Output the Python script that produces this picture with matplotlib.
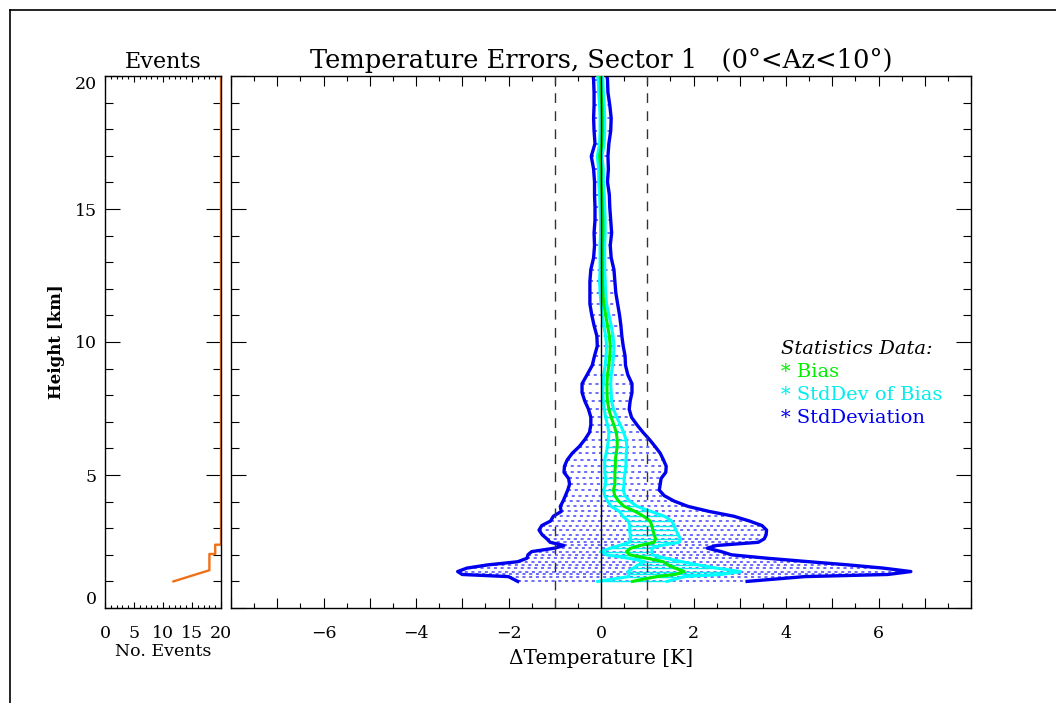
import numpy as np
import matplotlib
matplotlib.use('Agg')
import matplotlib.pyplot as plt
from matplotlib.ticker import MultipleLocator, FuncFormatter
from matplotlib.lines import Line2D

# profile levels (km) and statistics (K)
height = [1.00, 1.18, 1.26, 1.37, 1.50, 1.62, 1.74, 1.87, 2.00, 2.12, 2.25, 2.35,
          2.47, 2.60, 2.75, 2.93, 3.10, 3.27, 3.45, 3.63, 3.82, 4.02, 4.22, 4.43,
          4.65, 4.87, 5.10, 5.33, 5.57, 5.82, 6.07, 6.33, 6.60, 6.88, 7.17, 7.47,
          7.78, 8.10, 8.43, 8.77, 9.12, 9.48, 9.85, 10.23, 10.62, 11.02, 11.43, 11.85,
          12.28, 12.72, 13.17, 13.63, 14.10, 14.58, 15.06, 15.54, 16.02, 16.50, 16.98,
          17.46, 17.94, 18.42, 18.90, 19.38, 19.86, 20.00]
bias = [0.68, 1.20, 1.60, 1.80, 1.60, 1.45, 1.35, 1.00, 0.62, 0.55, 0.65, 0.85,
        1.15, 1.18, 1.15, 1.12, 1.10, 1.06, 0.92, 0.74, 0.50, 0.38, 0.30, 0.27,
        0.30, 0.30, 0.30, 0.31, 0.31, 0.33, 0.35, 0.35, 0.33, 0.28, 0.22, 0.17,
        0.14, 0.13, 0.13, 0.14, 0.17, 0.19, 0.20, 0.18, 0.14, 0.10, 0.06, 0.04,
        0.03, 0.03, 0.03, 0.03, 0.04, 0.04, 0.03, 0.02, 0.00, 0.00, -0.03,
        0.02, 0.03, 0.03, 0.02, 0.00, -0.01, -0.02]
sd_bias = [0.75, 0.60, 1.00, 1.22, 0.90, 0.65, 0.40, 0.40, 0.50, 0.55, 0.45, 0.45,
           0.54, 0.54, 0.52, 0.50, 0.48, 0.47, 0.45, 0.34, 0.28, 0.24, 0.22, 0.21,
           0.20, 0.20, 0.22, 0.23, 0.23, 0.22, 0.21, 0.19, 0.16, 0.14, 0.12, 0.10,
           0.09, 0.09, 0.08, 0.08, 0.08, 0.08, 0.08, 0.08, 0.08, 0.07, 0.06, 0.06,
           0.06, 0.05, 0.05, 0.05, 0.05, 0.05, 0.05, 0.05, 0.05, 0.05, 0.05,
           0.05, 0.05, 0.05, 0.05, 0.05, 0.05, 0.05]
sd = [2.48, 3.20, 4.60, 4.90, 4.50, 3.90, 3.15, 2.60, 2.20, 2.05, 1.65, 1.65,
      2.25, 2.35, 2.42, 2.46, 2.38, 2.15, 1.95, 1.60, 1.38, 1.20, 1.07, 0.99,
      0.98, 1.00, 1.10, 1.10, 1.04, 0.95, 0.82, 0.70, 0.58, 0.50, 0.44, 0.44,
      0.49, 0.54, 0.54, 0.44, 0.36, 0.33, 0.28, 0.27, 0.29, 0.30, 0.30, 0.28,
      0.27, 0.25, 0.19, 0.17, 0.19, 0.17, 0.16, 0.16, 0.14, 0.16, 0.18,
      0.15, 0.18, 0.19, 0.17, 0.15, 0.15, 0.15]

# number of events vs height (step outline)
ev_count = [11.8, 18, 18, 19, 19, 20, 20]
ev_height = [1.0, 1.42, 2.03, 2.03, 2.38, 2.38, 20.0]

plt.rcParams['font.family'] = ['DejaVu Serif']
plt.rcParams['axes.unicode_minus'] = True

h = np.array(height)
b = np.array(bias)
sb = np.array(sd_bias)
s = np.array(sd)

fig = plt.figure(figsize=(10.56, 7.03), dpi=100)
fig.patch.set_facecolor('white')

# outer frame (top and left edges)
fig.add_artist(Line2D([10/1056, 10/1056], [0, 1 - 10/703], transform=fig.transFigure, color='black', lw=1.2))
fig.add_artist(Line2D([10/1056, 1], [1 - 10/703, 1 - 10/703], transform=fig.transFigure, color='black', lw=1.2))

ax_ev = fig.add_axes([105/1056, 95/703, 116/1056, 532/703])
ax = fig.add_axes([231/1056, 95/703, 740/1056, 532/703])

for a in (ax_ev, ax):
    for sp in a.spines.values():
        sp.set_linewidth(1.0)
    a.tick_params(which='both', direction='in', top=True, right=True, width=0.8, colors='black')

# events panel
ax_ev.plot(ev_count, ev_height, color='#f07018', lw=1.7)
ax_ev.set_xlim(0, 20)
ax_ev.set_ylim(0, 20)
ax_ev.xaxis.set_major_locator(MultipleLocator(5))
ax_ev.xaxis.set_minor_locator(MultipleLocator(1))
ax_ev.yaxis.set_major_locator(MultipleLocator(5))
ax_ev.yaxis.set_minor_locator(MultipleLocator(1))
ax_ev.tick_params(axis='x', which='major', length=4.5, labelsize=12.5, pad=12)
ax_ev.tick_params(axis='x', which='minor', length=2.5)
ax_ev.tick_params(axis='y', which='major', length=11, labelsize=12.5, pad=6)
ax_ev.tick_params(axis='y', which='minor', length=5.5)
ax_ev.set_title('Events', fontsize=16, pad=6)
ax_ev.set_xlabel('No. Events', fontsize=12.5, labelpad=1)
ax_ev.set_ylabel('Height [km]', fontsize=12, fontweight='bold', labelpad=7)
fig.canvas.draw()
for t in ax_ev.get_yticklabels():
    if t.get_text() == '0':
        t.set_verticalalignment('bottom')
    elif t.get_text() == '20':
        t.set_verticalalignment('top')

# main panel
ax.hlines(h, b - s, b + s, colors='#4444ff', lw=1.1, linestyles=(0, (2.0, 2.4)), zorder=1)
ax.plot(b - s, h, color='#0000ee', lw=2.4, zorder=2)
ax.plot(b + s, h, color='#0000ee', lw=2.4, zorder=2)
ax.hlines(h, b - sb, b + sb, colors='#00eeee', lw=1.0, zorder=3)
ax.plot(b - sb, h, color='#00ffff', lw=2.2, zorder=4)
ax.plot(b + sb, h, color='#00ffff', lw=2.2, zorder=4)
ax.plot(b, h, color='#00ee00', lw=2.2, zorder=5)

ax.axvline(0, color='black', lw=1.0, zorder=6)
for xv in (-1, 1):
    ax.axvline(xv, color='#333333', lw=1.0, linestyle=(0, (7, 6)), zorder=6)

ax.set_xlim(-8, 8)
ax.set_ylim(0, 20)
ax.xaxis.set_major_locator(MultipleLocator(1))
ax.xaxis.set_minor_locator(MultipleLocator(0.5))
ax.xaxis.set_major_formatter(FuncFormatter(
    lambda v, p: ('%d' % v).replace('-', '\u2212') if (round(v) % 2 == 0 and abs(v) < 7.5) else ''))
ax.yaxis.set_major_locator(MultipleLocator(5))
ax.yaxis.set_minor_locator(MultipleLocator(1))
ax.tick_params(axis='x', which='major', length=7, labelsize=12.5, pad=12)
ax.tick_params(axis='x', which='minor', length=3.5)
ax.tick_params(axis='y', which='major', length=11, labelleft=False)
ax.tick_params(axis='y', which='minor', length=5.5)
ax.set_title('Temperature Errors, Sector 1   (0\u00b0<Az<10\u00b0)', fontsize=18.5, pad=6)
ax.set_xlabel('\u0394Temperature [K]', fontsize=14.5, labelpad=5)

# legend text
lx = 0.743
ax.text(lx, 0.487, 'Statistics Data:', transform=ax.transAxes, fontsize=14, style='italic',
        color='black', va='center')
ax.text(lx, 0.444, '* Bias', transform=ax.transAxes, fontsize=14, color='#00ee00', va='center')
ax.text(lx, 0.400, '* StdDev of Bias', transform=ax.transAxes, fontsize=14, color='#00eeee', va='center')
ax.text(lx, 0.357, '* StdDeviation', transform=ax.transAxes, fontsize=14, color='#0000ee', va='center')

fig.savefig('out.png', dpi=100)
